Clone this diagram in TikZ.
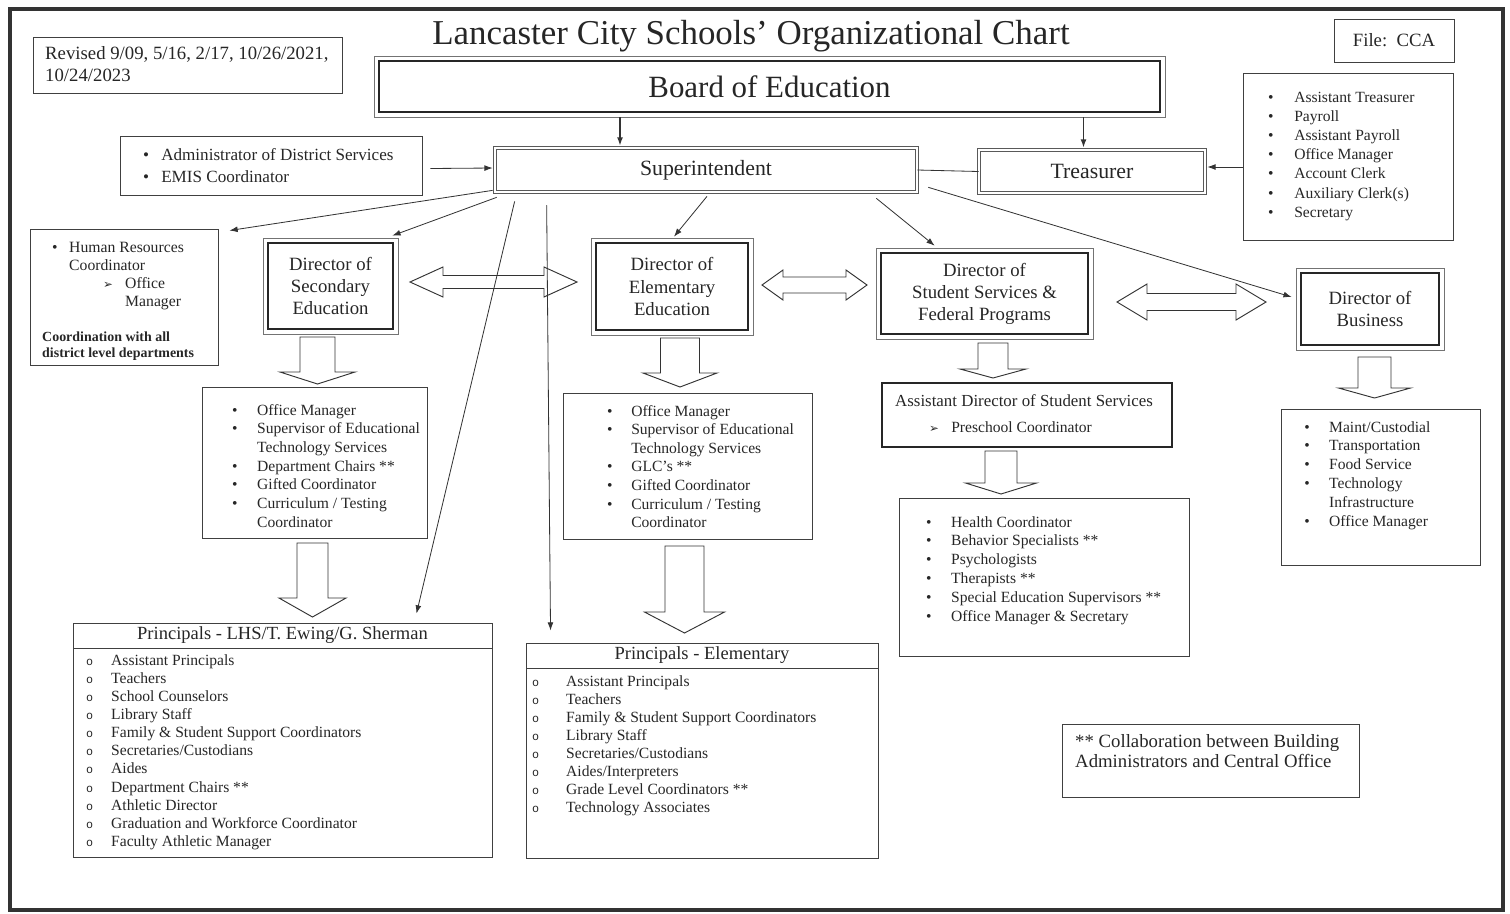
\documentclass[tikz,border=0pt]{standalone}
\usepackage{fontspec}
\setmainfont{Liberation Serif}
\newfontfamily\dingfont{DejaVu Sans}
\newfontfamily\ringfont{Liberation Mono}
\usetikzlibrary{arrows.meta,calc}

% list bullets
\newcommand{\bul}{\textbullet}
\newcommand{\ring}{{\ringfont\fontsize{10}{10}\selectfont o}}
\newcommand{\subbul}{{\dingfont\fontsize{10}{10}\selectfont ➢}}
% bullet column + text column, first baseline on top
\newcommand{\staff}[2]{\begin{tabular}[t]{@{}p{#1}@{}l@{}}#2\end{tabular}}

% hollow block arrows: centre x, top, head base, tip, half shaft, half head
\newcommand{\downblock}[6]{%
  \draw[hollow] (#1-#5,#2) -- (#1-#5,#3) -- (#1-#6,#3) -- (#1,#4)
    -- (#1+#6,#3) -- (#1+#5,#3) -- (#1+#5,#2) -- cycle;}
% left tip, right tip, centre y, head length, half shaft, half head
\newcommand{\twinblock}[6]{%
  \draw[hollow] (#1,#3) -- (#1+#4,#3-#6) -- (#1+#4,#3-#5) -- (#2-#4,#3-#5)
    -- (#2-#4,#3-#6) -- (#2,#3) -- (#2-#4,#3+#6) -- (#2-#4,#3+#5)
    -- (#1+#4,#3+#5) -- (#1+#4,#3+#6) -- cycle;}

\begin{document}
\begin{tikzpicture}
    [x=0.03cm,y=-0.03cm,
     every node/.style={text=black!85},
     boxsize/.style 2 args={minimum width=#1*0.03cm,minimum height=#2*0.03cm},
     box/.style={draw=black!75,line width=0.8pt,inner sep=0pt},
     dirbox/.style={box,draw=black!55,line width=0.6pt,align=center,font=\fontsize{16}{18.8}\selectfont},
     dblbox/.style={box,draw=black!65,line width=0.6pt,double,double distance=2.2pt},
     inframe/.style={draw=black!85,line width=2.4pt},
     link/.style={draw=black!80,line width=0.7pt,-{Latex[length=7pt,width=5pt]}},
     hollow/.style={draw=black!80,line width=0.8pt,fill=white},
     listtext/.style={anchor=base west,inner sep=0pt,font=\fontsize{13.3}{16}\selectfont}]
    \useasboundingbox (0,0) rectangle (1510,913);
    \draw[draw=black!80,line width=2.6pt] (10,9) rectangle (1503,910);

    % heading and corner notes
    \node[anchor=base,font=\fontsize{29.8}{34}\selectfont] (title) at (751,44) {Lancaster City Schools’ Organizational Chart};
    \node[box,boxsize={120}{43},font=\fontsize{16}{19}\selectfont] (file) at (1394,40.5) {File:\ \ CCA};
    \node[box,boxsize={309}{56}] (rev) at (187.5,65) {};
    \node[listtext,font=\fontsize{16}{18.8}\selectfont] (revtext) at (45,59)
        {\begin{tabular}[t]{@{}l@{}}Revised 9/09, 5/16, 2/17, 10/26/2021,\\10/24/2023\end{tabular}};

    % top of the chart
    \node[dirbox,boxsize={791}{61},font=\fontsize{26.4}{30}\selectfont] (board) at (769.5,86.5) {Board of Education};
    \node[dblbox,boxsize={422}{44},font=\fontsize{18.6}{22}\selectfont] (supt) at (706,170) {Superintendent};
    \node[dblbox,boxsize={226}{43},font=\fontsize{18.6}{22}\selectfont] (treas) at (1092,171.5) {Treasurer};

    \node[box,boxsize={210}{167}] (treaslist) at (1348,156.5) {};
    \node[listtext,font=\fontsize{13.3}{16.4}\selectfont] (treastext) at (1268,102) {\staff{22.2pt}{
        \bul & Assistant Treasurer\\
        \bul & Payroll\\
        \bul & Assistant Payroll\\
        \bul & Office Manager\\
        \bul & Account Clerk\\
        \bul & Auxiliary Clerk(s)\\
        \bul & Secretary}};

    \node[box,boxsize={302}{59}] (admin) at (271,165.5) {};
    \node[listtext,font=\fontsize{14.6}{18.8}\selectfont] (admintext) at (143,160) {\staff{15.4pt}{
        \bul & Administrator of District Services\\
        \bul & EMIS Coordinator}};

    \node[box,boxsize={188}{136}] (hr) at (124,297) {};
    \node[listtext,font=\fontsize{13.4}{15.4}\selectfont] (hrtext) at (52,252) {\staff{14.5pt}{
        \bul & Human Resources\\
             & Coordinator\\
             & \hspace{29pt}\makebox[18.8pt][l]{\subbul}Office\\
             & \hspace{47.8pt}Manager}};
    \node[listtext,font=\fontsize{11.9}{13.7}\selectfont\bfseries] (hrnote) at (42,341)
        {\begin{tabular}[t]{@{}l@{}}Coordination with all\\district level departments\end{tabular}};

    % directors
    \node[dirbox,boxsize={135}{96}] (dsec) at (330.5,286) {Director of\\Secondary\\Education};
    \node[dirbox,boxsize={162}{97}] (delem) at (672,286.5) {Director of\\Elementary\\Education};
    \node[dirbox,boxsize={217}{91}] (dss) at (984.5,293.5) {Director of\\Student Services \&\\Federal Programs};
    \node[dirbox,boxsize={148}{82}] (dbus) at (1370,309) {Director of\\Business};
    \foreach \n in {board,dsec,delem,dss,dbus}
        \draw[inframe] ([xshift=4.6pt,yshift=-4.6pt]\n.north west) rectangle ([xshift=-4.6pt,yshift=4.6pt]\n.south east);

    % staff under each director
    \node[box,boxsize={225}{151}] (seclist) at (314.5,462.5) {};
    \node[listtext] (sectext) at (232,415) {\staff{21.3pt}{
        \bul & Office Manager\\
        \bul & Supervisor of Educational\\
             & Technology Services\\
        \bul & Department Chairs **\\
        \bul & Gifted Coordinator\\
        \bul & Curriculum / Testing\\
             & Coordinator}};

    \node[box,boxsize={249}{146}] (elemlist) at (687.5,466) {};
    \node[listtext,font=\fontsize{13.3}{15.9}\selectfont] (elemtext) at (607,416) {\staff{20.5pt}{
        \bul & Office Manager\\
        \bul & Supervisor of Educational\\
             & Technology Services\\
        \bul & GLC’s **\\
        \bul & Gifted Coordinator\\
        \bul & Curriculum / Testing\\
             & Coordinator}};

    \node[box,line width=1.3pt,draw=black!85,boxsize={290}{64}] (asst) at (1027,415) {};
    \node[listtext,font=\fontsize{14.4}{17}\selectfont] (asstitle) at (895,406) {Assistant Director of Student Services};
    \node[listtext] (asstitem) at (929,432) {\makebox[18.8pt][l]{\subbul}Preschool Coordinator};

    \node[box,boxsize={290}{158}] (sslist) at (1044,577) {};
    \node[listtext,font=\fontsize{13.3}{16.2}\selectfont] (sstext) at (926,527) {\staff{21.3pt}{
        \bul & Health Coordinator\\
        \bul & Behavior Specialists **\\
        \bul & Psychologists\\
        \bul & Therapists **\\
        \bul & Special Education Supervisors **\\
        \bul & Office Manager \& Secretary}};

    \node[box,boxsize={199}{156}] (buslist) at (1380.5,487) {};
    \node[listtext,font=\fontsize{13.3}{16.2}\selectfont] (bustext) at (1304,432) {\staff{21.3pt}{
        \bul & Maint/Custodial\\
        \bul & Transportation\\
        \bul & Food Service\\
        \bul & Technology\\
             & Infrastructure\\
        \bul & Office Manager}};

    % principals
    \node[box,boxsize={419}{25},font=\fontsize{15.8}{18}\selectfont] (plhshead) at (282.5,635.5) {Principals - LHS/T. Ewing/G. Sherman};
    \node[box,boxsize={419}{209}] (plhs) at (282.5,752.5) {};
    \node[listtext,font=\fontsize{13.3}{15.5}\selectfont] (plhstext) at (86,665) {\staff{21.3pt}{
        \ring & Assistant Principals\\
        \ring & Teachers\\
        \ring & School Counselors\\
        \ring & Library Staff\\
        \ring & Family \& Student Support Coordinators\\
        \ring & Secretaries/Custodians\\
        \ring & Aides\\
        \ring & Department Chairs **\\
        \ring & Athletic Director\\
        \ring & Graduation and Workforce Coordinator\\
        \ring & Faculty Athletic Manager}};

    \node[box,boxsize={352}{25},font=\fontsize{15.8}{18}\selectfont] (pelemhead) at (702,655.5) {Principals - Elementary};
    \node[box,boxsize={352}{190}] (pelem) at (702,763) {};
    \node[listtext,font=\fontsize{13.3}{15.4}\selectfont] (pelemtext) at (532,686) {\staff{29pt}{
        \ring & Assistant Principals\\
        \ring & Teachers\\
        \ring & Family \& Student Support Coordinators\\
        \ring & Library Staff\\
        \ring & Secretaries/Custodians\\
        \ring & Aides/Interpreters\\
        \ring & Grade Level Coordinators **\\
        \ring & Technology Associates}};

    \node[box,boxsize={297}{73}] (note) at (1210.5,760.5) {};
    \node[listtext,font=\fontsize{16}{17.9}\selectfont] (notetext) at (1075,747)
        {\begin{tabular}[t]{@{}l@{}}** Collaboration between Building\\Administrators and Central Office\end{tabular}};

    % block arrows
    \downblock{317.5}{337}{372}{384}{17.5}{37.5}
    \downblock{312.5}{543}{598}{617}{15.5}{33.5}
    \downblock{680}{338}{373}{387}{19.5}{37}
    \downblock{684.5}{546}{612}{633}{19.5}{40}
    \downblock{993}{343}{369}{378}{15}{33}
    \downblock{1001}{451}{483}{494}{16}{35.5}
    \downblock{1374.5}{357}{388}{398}{16.5}{36}
    \twinblock{410}{577}{282}{33}{6.5}{15}
    \twinblock{762}{867}{285}{21}{8}{15}
    \twinblock{1117}{1266}{302}{30}{8.5}{18}

    % reporting lines
    \draw[link,line width=1.2pt] ($(board.south)+(-149.5,0)$) -- ($(supt.north)+(-86,-2)$);
    \draw[link,line width=1.2pt] ($(board.south)+(314,0)$) -- ($(treas.north)+(-8.5,-2)$);
    \draw[draw=black!80,line width=0.7pt] (supt.east) -- (treas.west);
    \draw[link] ($(treaslist.west)+(0,10.5)$) -- ($(treas.east)+(2,-4.5)$);
    \draw[link] ($(admin.east)+(8,3)$) -- ($(supt.west)+(-2,-2)$);

    \draw[link] ($(supt.south west)+(-2,-2)$) -- ($(hr.north east)+(11,2)$);
    \draw[link] ($(supt.south west)+(2,5)$) -- ($(dsec.north east)+(-6,-2)$);
    \draw[link] ($(supt.south west)+(20,9)$) -- ($(plhshead.north east)+(-76,-9)$);
    \draw[link] ($(supt.south west)+(52,13)$) -- ($(pelemhead.north west)+(25,-12)$);
    \draw[link] ($(supt.south)+(1,4)$) -- ($(delem.north)+(2,-1)$);
    \draw[link] ($(supt.south east)+(-41,6)$) -- ($(dss.north west)+(59,-2)$);
    \draw[link] ($(supt.south east)+(11,-5)$) -- ($(dbus.west)+(-4,-12)$);
  \end{tikzpicture}
\end{document}
